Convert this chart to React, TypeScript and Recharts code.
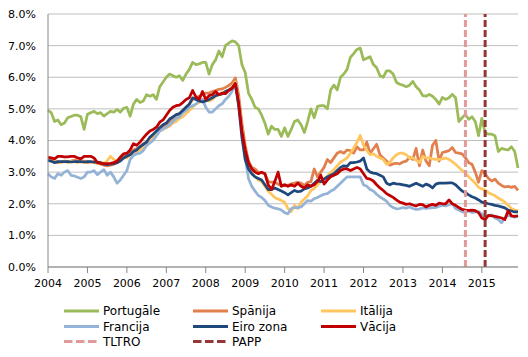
import React from 'react';
import { LineChart, Line, XAxis, YAxis, CartesianGrid, ReferenceLine, Legend } from 'recharts';

const years = ['2004', '2005', '2006', '2007', '2008', '2009', '2010', '2011', '2012', '2013', '2014', '2015'];

const portugal = [
  4.95, 4.88, 4.6, 4.65, 4.5, 4.55, 4.72, 4.76, 4.8, 4.8, 4.75, 4.35,
  4.83, 4.88, 4.92, 4.85, 4.88, 4.77, 4.85, 4.92, 4.9, 4.98, 4.9, 5.02,
  5.05, 4.77, 5.15, 5.3, 5.2, 5.25, 5.45, 5.4, 5.45, 5.3, 5.7, 5.85,
  6.0, 6.1, 6.05, 6.0, 6.05, 5.9, 6.1, 6.25, 6.47, 6.4, 6.42, 6.47,
  6.47, 6.1, 6.4, 6.55, 6.83, 6.65, 7.0, 7.08, 7.15, 7.12, 7.0, 6.4,
  6.15, 5.5, 5.3, 5.05, 5.0, 4.8, 4.55, 4.2, 4.45, 4.35, 4.35, 4.13,
  4.4, 4.13, 4.35, 4.6, 4.65, 4.5, 4.25, 4.6, 5.0, 4.72, 5.08, 5.1,
  5.1, 5.0, 5.6, 5.75, 5.6, 6.0, 6.1, 6.25, 6.63, 6.75, 6.88, 6.92,
  6.55, 6.6, 6.65, 6.4, 6.3, 6.05, 6.0, 6.2, 6.2, 6.1, 5.84, 5.78,
  5.75, 5.7, 5.75, 5.87, 5.7, 5.6, 5.42, 5.4, 5.46, 5.4, 5.3, 5.15,
  5.36, 5.3, 5.35, 5.46, 5.35, 4.6, 4.72, 4.82, 4.67, 4.75, 4.6, 4.15,
  4.7, 4.25, 4.2, 4.2, 4.15, 3.65, 3.75, 3.72, 3.7, 3.8, 3.65, 3.13,
];

const spain = [
  3.38, 3.35, 3.35, 3.3, 3.32, 3.35, 3.33, 3.35, 3.38, 3.35, 3.32, 3.35,
  3.3, 3.32, 3.3, 3.28, 3.25, 3.22, 3.2, 3.22, 3.25, 3.3, 3.4, 3.48,
  3.55, 3.6, 3.7, 3.75, 3.8, 3.9, 3.95, 4.08, 4.15, 4.25, 4.35, 4.45,
  4.5, 4.6, 4.7, 4.8, 4.85, 4.95, 5.05, 5.15, 5.3, 5.35, 5.4, 5.45,
  5.5, 5.5, 5.55, 5.58, 5.62, 5.63, 5.68, 5.74, 5.82, 5.98, 5.45, 4.55,
  3.85, 3.35, 3.15, 3.1, 3.0, 2.98, 2.95, 2.7, 2.68, 2.68, 2.62, 2.58,
  2.6, 2.58, 2.63, 2.65, 2.68, 2.65, 2.58, 2.68, 2.7, 3.1, 2.85, 3.0,
  3.15, 3.4, 3.3, 3.45, 3.6, 3.65, 3.6, 3.7, 3.68, 3.6, 3.8, 3.7,
  3.7, 3.95, 3.6, 3.74, 3.88, 3.55, 3.45, 3.35, 3.22, 3.26, 3.28, 3.26,
  3.32, 3.35, 3.47, 3.4, 3.75, 3.2, 3.7, 3.35, 3.2, 3.85, 4.0, 3.35,
  3.62, 3.65, 3.68, 3.78, 3.62, 3.6, 3.58, 3.45, 3.3, 3.25, 3.0, 2.68,
  3.05, 2.95, 2.8, 2.72, 2.78, 2.65, 2.58, 2.53, 2.55, 2.52, 2.55, 2.42,
];

const italy = [
  3.38, 3.4, 3.35, 3.33, 3.3, 3.35, 3.3, 3.35, 3.35, 3.3, 3.35, 3.3,
  3.35, 3.3, 3.33, 3.28, 3.32, 3.28, 3.35, 3.5, 3.4, 3.35, 3.4, 3.45,
  3.45, 3.55, 3.6, 3.65, 3.7, 3.8, 3.85, 3.95, 4.05, 4.2, 4.3, 4.35,
  4.4, 4.45, 4.55, 4.6, 4.7, 4.75, 4.85, 4.95, 5.05, 5.15, 5.2, 5.3,
  5.3, 5.25, 5.3, 5.4, 5.45, 5.5, 5.55, 5.6, 5.7, 5.85, 5.25, 4.35,
  3.6, 3.1, 2.95, 2.85, 2.75, 2.7, 2.55, 2.4, 2.3, 2.2, 2.15, 2.1,
  2.05, 1.85, 1.75, 1.95, 1.85, 2.05, 2.15, 2.25, 2.42, 2.48, 2.6, 2.7,
  2.78, 2.88, 2.98, 3.08, 3.2, 3.32, 3.38, 3.45, 3.6, 3.75, 3.95, 4.16,
  3.85, 3.68, 3.55, 3.58, 3.5, 3.45, 3.4, 3.25, 3.3, 3.45, 3.55, 3.6,
  3.6, 3.55, 3.45, 3.45, 3.38, 3.3, 3.5, 3.45, 3.45, 3.42, 3.4, 3.4,
  3.42, 3.45, 3.4, 3.33, 3.25, 3.15, 3.05, 2.98, 2.85, 2.75, 2.65, 2.52,
  2.47, 2.43, 2.35, 2.3, 2.25, 2.18, 2.12, 2.05, 1.95, 1.85, 1.8, 1.78,
];

const france = [
  2.95, 2.85, 2.8, 2.95, 2.9, 3.0, 3.05, 2.9, 2.88, 2.84, 2.8, 2.85,
  3.0, 3.0, 3.05, 2.92, 3.0, 3.08, 2.9, 3.0, 2.85, 2.65, 2.75, 2.9,
  3.05, 3.4, 3.52, 3.58, 3.6, 3.68, 3.84, 3.92, 4.0, 4.15, 4.3, 4.37,
  4.42, 4.5, 4.6, 4.7, 4.75, 4.88, 4.95, 5.05, 5.1, 5.15, 5.26, 5.3,
  5.05, 4.9, 4.9, 5.0, 5.1, 5.16, 5.3, 5.4, 5.55, 5.75, 5.2, 4.3,
  3.45, 2.8, 2.55, 2.4, 2.26, 2.2, 2.1, 1.95, 1.9, 1.86, 1.84, 1.8,
  1.72, 1.68, 1.85, 1.88, 1.88, 1.9, 2.0, 2.1, 2.08, 2.16, 2.2, 2.25,
  2.3, 2.32, 2.4, 2.45, 2.55, 2.65, 2.75, 2.85, 2.85, 2.85, 2.85, 2.85,
  2.6, 2.55, 2.45, 2.4, 2.3, 2.22, 2.15, 2.08, 1.95, 1.88, 1.84, 1.85,
  1.88, 1.86, 1.9, 1.85, 1.82, 1.83, 1.87, 1.85, 1.86, 1.88, 1.88, 1.92,
  1.95, 1.93, 1.97, 2.0, 1.85, 1.8, 1.75, 1.72, 1.78, 1.72, 1.74, 1.75,
  1.68, 1.58, 1.62, 1.65, 1.55, 1.5, 1.4, 1.55, 1.63, 1.6, 1.58, 1.6,
];

const euroArea = [
  3.37, 3.35, 3.3, 3.33, 3.33, 3.33, 3.33, 3.32, 3.33, 3.33, 3.33, 3.32,
  3.33, 3.33, 3.32, 3.32, 3.3, 3.25, 3.24, 3.25, 3.27, 3.3, 3.35, 3.45,
  3.5, 3.55, 3.65, 3.7, 3.8, 3.88, 3.95, 4.1, 4.2, 4.3, 4.4, 4.5,
  4.55, 4.68, 4.75, 4.82, 4.85, 4.95, 5.05, 5.15, 5.35, 5.3, 5.25, 5.22,
  5.25, 5.3, 5.35, 5.42, 5.45, 5.47, 5.55, 5.6, 5.65, 5.8, 5.1, 4.1,
  3.4, 3.1, 2.95, 2.85, 2.8, 2.75, 2.6, 2.45, 2.45, 2.5, 2.45, 2.4,
  2.35, 2.28, 2.35, 2.42, 2.38, 2.4, 2.47, 2.5, 2.55, 2.65, 2.74, 2.7,
  2.78, 2.85, 2.9, 2.95, 3.05, 3.15, 3.2, 3.18, 3.3, 3.3, 3.32, 3.35,
  3.45, 3.1, 3.0, 2.97, 2.95, 2.9, 2.85, 2.65, 2.6, 2.65, 2.63, 2.62,
  2.6, 2.58, 2.55, 2.6, 2.65, 2.6, 2.55, 2.62, 2.58, 2.5, 2.62, 2.65,
  2.65, 2.65, 2.66, 2.66, 2.6, 2.5, 2.4, 2.35, 2.28, 2.22, 2.18, 2.12,
  2.05, 2.03, 2.0, 1.98, 1.95, 1.93, 1.9, 1.87, 1.8, 1.77, 1.74, 1.74,
];

const germany = [
  3.47, 3.45, 3.42, 3.5, 3.5, 3.48, 3.48, 3.5, 3.5, 3.45, 3.42, 3.5,
  3.5, 3.5, 3.45, 3.3, 3.28, 3.27, 3.27, 3.28, 3.3, 3.35, 3.47, 3.58,
  3.6, 3.7, 3.9, 3.85, 3.95, 4.08, 4.2, 4.3, 4.35, 4.42, 4.58, 4.65,
  4.8, 4.95, 5.05, 5.1, 5.12, 5.2, 5.3, 5.35, 5.58, 5.38, 5.3, 5.55,
  5.3, 5.42, 5.45, 5.55, 5.45, 5.5, 5.48, 5.58, 5.65, 5.8, 5.2, 4.3,
  3.7, 3.3, 3.1, 3.0, 2.95, 3.0, 2.95, 2.6, 2.45, 2.7, 3.0, 2.55,
  2.6, 2.55, 2.6, 2.55, 2.65, 2.55, 2.5, 2.6, 2.55, 2.6, 2.7, 2.9,
  2.62, 2.75, 2.85, 2.9, 2.95, 3.05, 3.1, 3.1, 3.05, 3.1, 3.15, 3.1,
  2.95, 2.8, 2.78, 2.72, 2.6, 2.5, 2.42, 2.32, 2.26, 2.2, 2.12, 2.05,
  2.02, 1.98, 2.0, 1.96, 1.93, 1.98, 1.97, 1.9, 1.95, 1.98, 1.95, 2.02,
  2.0, 2.0, 2.12, 2.0, 1.95, 1.88, 1.82, 1.8, 1.79, 1.8, 1.78, 1.72,
  1.55, 1.5, 1.63, 1.62, 1.6, 1.58, 1.55, 1.5, 1.78, 1.62, 1.6, 1.62,
];

const eventNames = ['TLTRO', 'PAPP'];
const eventMonths = [127, 133];

const yTicks = [0, 1, 2, 3, 4, 5, 6, 7, 8];

const data = portugal.map((_, i) => ({
  m: i,
  portugal: portugal[i],
  spain: spain[i],
  italy: italy[i],
  france: france[i],
  euro: euroArea[i],
  germany: germany[i],
}));

const xTicks = years.map((_, i) => i * 12);

const FONT = '"DejaVu Sans", Verdana, sans-serif';

const series = [
  { key: 'portugal', name: 'Portugāle', color: '#9BBB59' },
  { key: 'spain', name: 'Spānija', color: '#E17F4D' },
  { key: 'italy', name: 'Itālija', color: '#FFC65F' },
  { key: 'france', name: 'Francija', color: '#95B3D7' },
  { key: 'euro', name: 'Eiro zona', color: '#1F497D' },
  { key: 'germany', name: 'Vācija', color: '#C00000' },
];

const eventColors = ['#E09A98', '#953735'];

const legendEntries = [
  ...series.map((s) => ({ name: s.name, color: s.color, dashed: false })),
  ...eventNames.map((n, i) => ({ name: n, color: eventColors[i], dashed: true })),
];

const colX = [64, 193, 321];
const rowY = [311, 326.5, 341.5];

const renderLegend = () => (
  <svg width={528} height={60} style={{ display: 'block' }}>
    {legendEntries.map((e, i) => {
      const col = i % 3;
      const row = Math.floor(i / 3);
      const x = colX[col];
      const y = rowY[row] - 295;
      return (
        <g key={e.name}>
          <line
            x1={x}
            x2={x + 35}
            y1={y}
            y2={y}
            stroke={e.color}
            strokeWidth={3}
            strokeDasharray={e.dashed ? '8.5 3.5' : undefined}
          />
          <text x={x + 39} y={y} dy="0.36em" fontSize={12} fontFamily={FONT} fill="#000">
            {e.name}
          </text>
        </g>
      );
    })}
  </svg>
);

export default function App() {
  return (
    <div style={{ position: 'absolute', left: 0, top: 0, width: 528, height: 357, background: '#fff' }}>
      <LineChart width={528} height={357} data={data} margin={{ top: 14, right: 10, bottom: 60, left: 8 }}>
        <CartesianGrid vertical={false} stroke="#BFBFBF" strokeWidth={1} />
        <XAxis
          dataKey="m"
          type="number"
          domain={[0, 143]}
          ticks={xTicks}
          tickFormatter={(v: number) => years[Math.round(v / 12)]}
          height={30}
          tickSize={6}
          tickMargin={6}
          axisLine={{ stroke: '#868686' }}
          tickLine={{ stroke: '#868686' }}
          tick={{ fontSize: 11, fontFamily: FONT, fill: '#000' }}
          interval={0}
        />
        <YAxis
          domain={[0, 8]}
          ticks={yTicks}
          tickFormatter={(v: number) => `${v.toFixed(1)}%`}
          width={40}
          tickSize={0}
          tickMargin={12}
          axisLine={{ stroke: '#868686' }}
          tickLine={false}
          tick={{ fontSize: 11, fontFamily: FONT, fill: '#000' }}
          interval={0}
        />
        {series.map((s) => (
          <Line
            key={s.key}
            type="linear"
            dataKey={s.key}
            name={s.name}
            stroke={s.color}
            strokeWidth={2.75}
            strokeLinejoin="round"
            dot={false}
            activeDot={false}
            isAnimationActive={false}
          />
        ))}
        {eventMonths.map((m, i) => (
          <ReferenceLine
            key={eventNames[i]}
            x={m}
            stroke={eventColors[i]}
            strokeWidth={3}
            strokeDasharray="7 3"
          />
        ))}
        <Legend
          verticalAlign="middle"
          align="center"
          layout="horizontal"
          content={renderLegend}
          wrapperStyle={{ left: 0, top: 295, width: 528, height: 60 }}
        />
      </LineChart>
    </div>
  );
}
